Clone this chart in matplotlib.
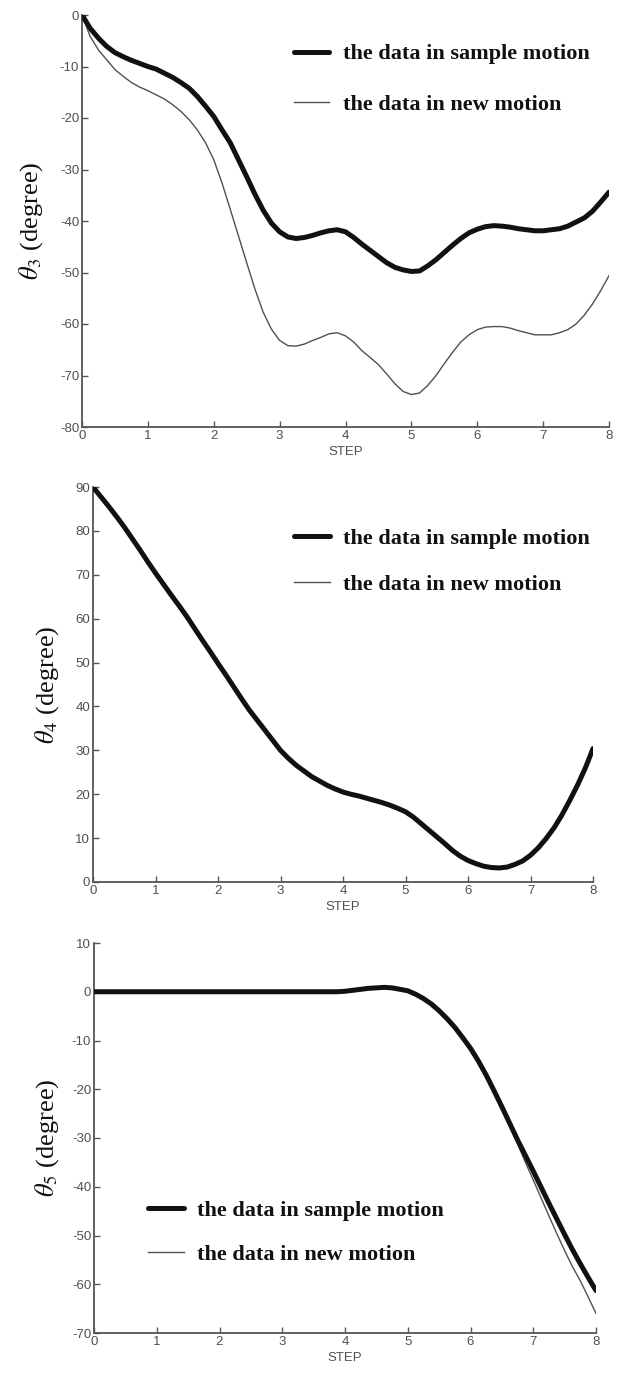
import matplotlib
matplotlib.use("Agg")
import matplotlib.pyplot as plt
import numpy as np

plt.rcParams['axes.unicode_minus'] = False
plt.rcParams['mathtext.fontset'] = 'stix'

# ---------------- data ----------------
step = np.linspace(0, 8, 65)   # sample positions, every 1/8 step

theta3_sample = [0.0, -2.6, -4.5, -6.1, -7.3, -8.1, -8.8, -9.4, -10.0, -10.5,
                 -11.3, -12.1, -13.1, -14.2, -15.8, -17.7, -19.7, -22.3, -24.8,
                 -28.1, -31.4, -34.8, -37.9, -40.4, -42.1, -43.1, -43.4, -43.2,
                 -42.8, -42.3, -41.9, -41.7, -42.1, -43.2, -44.5, -45.7, -46.9,
                 -48.1, -49.0, -49.5, -49.8, -49.7, -48.7, -47.5, -46.1, -44.7,
                 -43.4, -42.3, -41.6, -41.1, -40.9, -41.0, -41.2, -41.5, -41.7,
                 -41.9, -41.9, -41.7, -41.5, -41.0, -40.2, -39.4, -38.1, -36.3,
                 -34.4]
theta3_new = [0.0, -4.2, -6.8, -8.7, -10.6, -11.9, -13.1, -14.0, -14.7, -15.5,
              -16.3, -17.4, -18.7, -20.3, -22.3, -24.8, -28.1, -32.6, -37.7,
              -42.9, -48.1, -53.2, -57.7, -61.0, -63.2, -64.2, -64.3, -63.9,
              -63.2, -62.6, -61.9, -61.7, -62.3, -63.5, -65.2, -66.5, -67.9,
              -69.7, -71.6, -73.1, -73.7, -73.4, -71.9, -70.0, -67.7, -65.5,
              -63.5, -62.1, -61.1, -60.6, -60.5, -60.5, -60.8, -61.3, -61.7,
              -62.1, -62.1, -62.1, -61.7, -61.1, -60.0, -58.3, -56.1, -53.5,
              -50.6]

theta4_sample = [90.0, 87.8, 85.6, 83.3, 80.9, 78.3, 75.7, 73.0, 70.4, 67.9,
                 65.4, 63.0, 60.5, 57.8, 55.1, 52.5, 49.8, 47.2, 44.5, 41.8,
                 39.2, 36.9, 34.6, 32.3, 30.0, 28.2, 26.6, 25.3, 24.0, 23.0,
                 22.0, 21.2, 20.5, 20.0, 19.6, 19.1, 18.6, 18.1, 17.5, 16.8,
                 16.0, 14.8, 13.3, 11.8, 10.3, 8.8, 7.2, 5.9, 4.9, 4.2, 3.6,
                 3.3, 3.2, 3.4, 4.0, 4.8, 6.1, 7.8, 9.9, 12.3, 15.2, 18.5,
                 22.0, 25.9, 30.4]
theta4_new = [90.0, 87.8, 85.6, 83.3, 80.9, 78.3, 75.7, 73.0, 70.4, 67.9,
              65.4, 63.0, 60.5, 57.8, 55.1, 52.5, 49.8, 47.2, 44.5, 41.8,
              39.2, 36.9, 34.6, 32.3, 30.0, 28.2, 26.6, 25.3, 24.0, 23.0,
              22.0, 21.2, 20.5, 20.0, 19.6, 19.1, 18.6, 18.1, 17.5, 16.8,
              16.0, 14.8, 13.3, 11.8, 10.3, 8.8, 7.2, 5.9, 4.9, 4.2, 3.6,
              3.3, 3.2, 3.4, 4.0, 4.8, 6.1, 7.8, 9.9, 12.3, 15.2, 18.5,
              22.0, 25.9, 30.4]

theta5_sample = [0.0, 0.0, 0.0, 0.0, 0.0, 0.0, 0.0, 0.0, 0.0, 0.0, 0.0, 0.0,
                 0.0, 0.0, 0.0, 0.0, 0.0, 0.0, 0.0, 0.0, 0.0, 0.0, 0.0, 0.0,
                 0.0, 0.0, 0.0, 0.0, 0.0, 0.0, 0.0, 0.0,
                 0.1, 0.3, 0.5, 0.7, 0.8, 0.9, 0.8, 0.5, 0.2, -0.5, -1.4,
                 -2.5, -3.9, -5.5, -7.3, -9.4, -11.6, -14.2, -17.1, -20.3,
                 -23.6, -27.0, -30.4, -33.6, -36.8, -40.1, -43.4, -46.6,
                 -49.8, -52.9, -55.8, -58.6, -61.3]
theta5_new = [0.0, 0.0, 0.0, 0.0, 0.0, 0.0, 0.0, 0.0, 0.0, 0.0, 0.0, 0.0,
              0.0, 0.0, 0.0, 0.0, 0.0, 0.0, 0.0, 0.0, 0.0, 0.0, 0.0, 0.0,
              0.0, 0.0, 0.0, 0.0, 0.0, 0.0, 0.0, 0.0,
              0.1, 0.3, 0.5, 0.7, 0.8, 0.9, 0.8, 0.5, 0.2, -0.5, -1.4,
              -2.5, -3.9, -5.5, -7.3, -9.4, -11.6, -14.2, -17.1, -20.3,
              -24.0, -27.6, -31.2, -35.0, -38.6, -42.3, -46.0, -49.6,
              -53.1, -56.4, -59.3, -62.6, -66.0]

xticks = [0, 1, 2, 3, 4, 5, 6, 7, 8]
yticks3 = [0, -10, -20, -30, -40, -50, -60, -70, -80]
yticks4 = [0, 10, 20, 30, 40, 50, 60, 70, 80, 90]
yticks5 = [10, 0, -10, -20, -30, -40, -50, -60, -70]

label_sample = "the data in sample motion"
label_new = "the data in new motion"
xlabel = "STEP"

# ---------------- figure ----------------
W, H = 627, 1376
fig = plt.figure(figsize=(W / 100, H / 100), dpi=100)

def rect(l, r, t, b):
    return [l / W, 1 - b / H, (r - l) / W, (b - t) / H]

panels = [
    dict(rect=rect(82, 609, 15, 427), s=theta3_sample, n=theta3_new, yt=yticks3,
         ylim=(-80, 0), ylab=r'$\theta_3$ (degree)', ylx=-0.097,
         leg=(0.402, 0.93), lsp=1.35),
    dict(rect=rect(93, 593, 487, 882), s=theta4_sample, n=theta4_new, yt=yticks4,
         ylim=(0, 90), ylab=r'$\theta_4$ (degree)', ylx=-0.092,
         leg=(0.402, 0.895), lsp=1.15),
    dict(rect=rect(94, 596, 943, 1333), s=theta5_sample, n=theta5_new, yt=yticks5,
         ylim=(-70, 10), ylab=r'$\theta_5$ (degree)', ylx=-0.094,
         leg=(0.108, 0.34), lsp=1.05),
]

spine_c = '#555555'
tick_c = '#505050'
tick_font = ['Liberation Sans Narrow', 'Liberation Sans', 'DejaVu Sans']

for p in panels:
    ax = fig.add_axes(p['rect'])
    ln_s, = ax.plot(step, p['s'], color='#111111', lw=3.6, solid_capstyle='round',
                    solid_joinstyle='round', label=label_sample, zorder=3)
    ln_n, = ax.plot(step, p['n'], color='#505050', lw=1.0, label=label_new, zorder=2)
    ax.set_xlim(0, 8)
    ax.set_ylim(*p['ylim'])
    ax.set_xticks(xticks)
    ax.set_yticks(p['yt'])
    ax.set_xticklabels([str(v) for v in xticks])
    ax.set_yticklabels([str(v) for v in p['yt']])
    for sp in ['top', 'right']:
        ax.spines[sp].set_visible(False)
    for sp in ['left', 'bottom']:
        ax.spines[sp].set_color(spine_c)
        ax.spines[sp].set_linewidth(1.3)
    ax.tick_params(direction='in', length=4, width=1.0, color=spine_c,
                   labelsize=9.5, labelcolor=tick_c, pad=2)
    for t in ax.get_xticklabels() + ax.get_yticklabels():
        t.set_family(tick_font)
    ax.set_xlabel(xlabel, fontsize=9.5, color=tick_c, family=tick_font, labelpad=3)
    ax.set_ylabel(p['ylab'], fontsize=19, family='Liberation Serif', color='#111111',
                  va='center')
    ax.yaxis.set_label_coords(p['ylx'], 0.5)
    leg = ax.legend(handles=[ln_s, ln_n], loc='upper left',
                    bbox_to_anchor=p['leg'], frameon=False, borderpad=0,
                    borderaxespad=0, handlelength=1.6, handletextpad=0.6,
                    labelspacing=p['lsp'],
                    prop=dict(family='Liberation Serif', weight='bold', size=16))
    for t in leg.get_texts():
        t.set_color('#111111')

fig.savefig('out.png', dpi=100)
